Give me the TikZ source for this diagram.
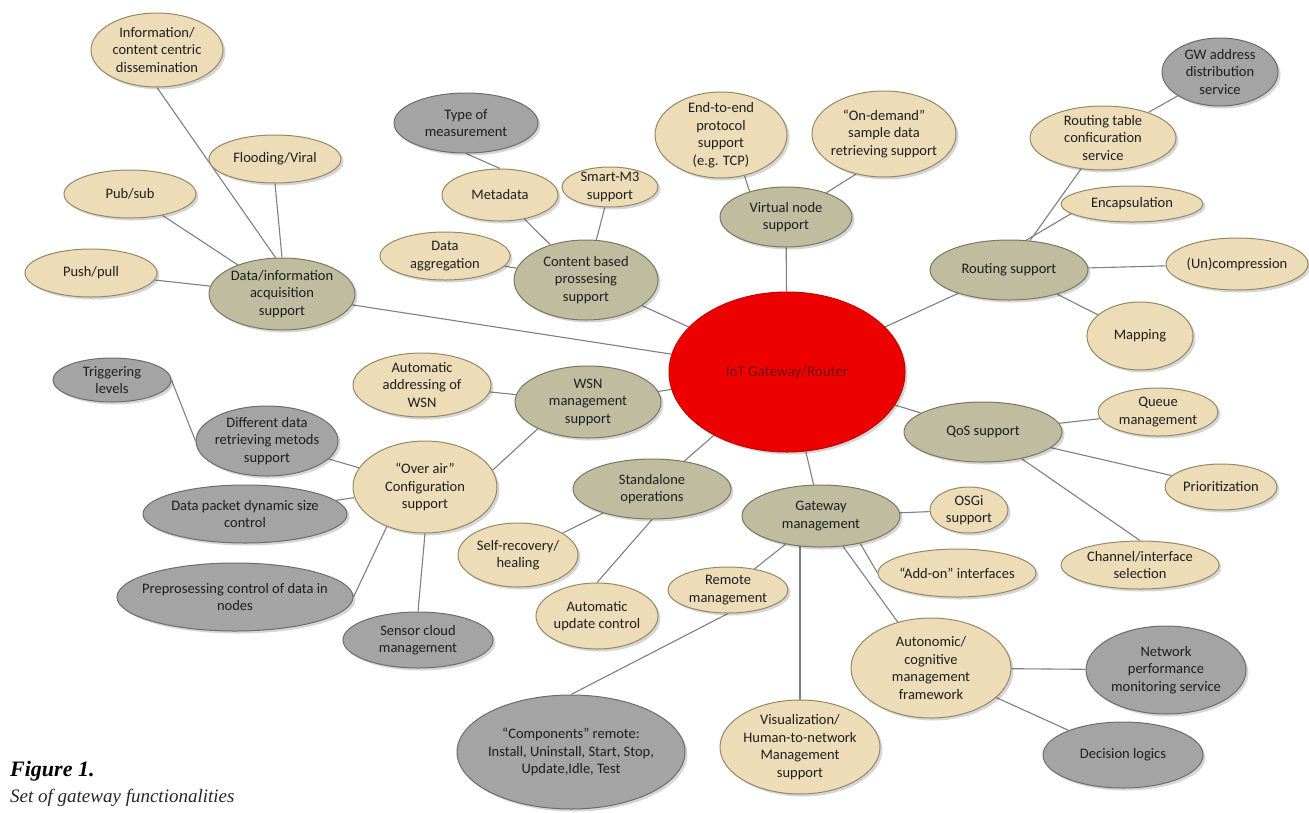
\documentclass[tikz,border=0pt]{standalone}
\usepackage{fontspec}
\setmainfont{Carlito}
\newfontfamily\capfont{Liberation Serif}
\usetikzlibrary{shapes.geometric,shadows}

\definecolor{tanfill}{RGB}{237,220,184}
\definecolor{tanline}{RGB}{150,136,100}
\definecolor{olivefill}{RGB}{191,188,160}
\definecolor{oliveline}{RGB}{122,119,95}
\definecolor{grayfill}{RGB}{164,164,164}
\definecolor{grayline}{RGB}{108,108,108}
\definecolor{hubfill}{RGB}{236,0,0}
\definecolor{hubline}{RGB}{196,0,0}
\definecolor{hubtext}{RGB}{115,12,12}
\definecolor{linkcol}{RGB}{128,128,128}
\definecolor{textcol}{RGB}{30,30,30}

\pgfdeclarelayer{background}
\pgfsetlayers{background,main}

\tikzset{
  blob/.style={ellipse, inner sep=0pt, line width=1pt,
    drop shadow={shadow xshift=2.5pt, shadow yshift=-2.5pt, fill=black, opacity=0.16}},
  tanbox/.style={blob, draw=tanline, fill=tanfill},
  olivebox/.style={blob, draw=oliveline, fill=olivefill},
  graybox/.style={blob, draw=grayline, fill=grayfill},
  hubbox/.style={blob, draw=hubline, fill=hubfill},
  lbl/.style={align=center, inner sep=0pt, text=textcol,
    font=\fontsize{14.5}{17.5}\selectfont},
  hublbl/.style={lbl, text=hubtext, font=\fontsize{15}{18}\selectfont},
  link/.style={draw=linkcol, line width=1.1pt},
}

% \bubble{name}{style}{x}{y}{half width}{half height}{text}
\newcommand\bubble[7]{%
  \node[#2, minimum width=2*#5pt, minimum height=2*#6pt] (#1) at (#3,#4) {};
  \node[lbl] (#1-t) at (#1.center) {#7};
}

\begin{document}
\begin{tikzpicture}[x=1pt, y=-1pt]
\useasboundingbox (0,0) rectangle (1309,812);

% central hub
\node[hubbox, minimum width=236pt, minimum height=160pt] (iot) at (787,372) {};
\node[hublbl] (iot-t) at (iot.center) {IoT Gateway/Router};

% data acquisition branch
\bubble{info}{tanbox}{157}{50}{66}{37}{Information/\\content centric\\dissemination}
\bubble{flood}{tanbox}{275}{159}{66}{24}{Flooding/Viral}
\bubble{pubsub}{tanbox}{130}{194}{66}{24}{Pub/sub}
\bubble{pushpull}{tanbox}{91}{273}{66}{24}{Push/pull}
\bubble{dataacq}{olivebox}{282}{294}{73}{36}{Data/information\\acquisition\\support}

% content processing branch
\bubble{typemeas}{graybox}{466}{123}{72}{30}{Type of\\measurement}
\bubble{metadata}{tanbox}{500}{195}{58}{26}{Metadata}
\bubble{smartm3}{tanbox}{610}{187}{48}{20}{Smart-M3\\support}
\bubble{dataagg}{tanbox}{445}{256}{65}{24}{Data\\aggregation}
\bubble{content}{olivebox}{586}{280}{72}{40}{Content based\\prossesing\\support}

% virtual node branch
\bubble{e2e}{tanbox}{721}{135}{66}{43}{End-to-end\\protocol\\support\\(e.g. TCP)}
\bubble{ondemand}{tanbox}{884}{134}{72}{43}{“On-demand”\\sample data\\retrieving support}
\bubble{virtual}{olivebox}{786}{217}{66}{30}{Virtual node\\support}

% routing branch
\bubble{gwaddr}{graybox}{1220}{72}{58}{34}{GW address\\distribution\\service}
\bubble{rtable}{tanbox}{1103}{138}{73}{32}{Routing table\\conficuration\\service}
\bubble{encap}{tanbox}{1132}{204}{71}{18}{Encapsulation}
\bubble{routing}{olivebox}{1009}{270}{79}{30}{Routing support}
\bubble{uncomp}{tanbox}{1237}{264}{71}{26}{(Un)compression}
\bubble{mapping}{tanbox}{1140}{336}{53}{34}{Mapping}

% QoS branch
\bubble{qos}{olivebox}{983}{432}{79}{30}{QoS support}
\bubble{queue}{tanbox}{1158}{412}{60}{24}{Queue\\management}
\bubble{prior}{tanbox}{1221}{487}{56}{23}{Prioritization}
\bubble{channel}{tanbox}{1140}{565}{79}{24}{Channel/interface\\selection}

% gateway management branch
\bubble{gwmgmt}{olivebox}{821}{516}{79}{31}{Gateway\\management}
\bubble{osgi}{tanbox}{969}{510}{39}{23}{OSGi\\support}
\bubble{addon}{tanbox}{957}{573}{79}{24}{“Add-on” interfaces}
\bubble{remote}{tanbox}{728}{590}{60}{23}{Remote\\management}
\bubble{autonomic}{tanbox}{931}{668}{80}{50}{Autonomic/\\cognitive\\management\\framework}
\bubble{netperf}{graybox}{1166}{670}{80}{44}{Network\\performance\\monitoring service}
\bubble{decision}{graybox}{1123}{755}{80}{33}{Decision logics}
\bubble{visual}{tanbox}{800}{747}{80}{47}{Visualization/\\Human-to-network\\Management\\support}
\bubble{components}{graybox}{571}{752}{114}{57}{“Components” remote:\\Install, Uninstall, Start, Stop,\\Update,Idle, Test}

% standalone branch
\bubble{standalone}{olivebox}{652}{489}{79}{30}{Standalone\\operations}
\bubble{selfrec}{tanbox}{518}{555}{60}{32}{Self-recovery/\\healing}
\bubble{autoupd}{tanbox}{597}{616}{61}{33}{Automatic\\update control}

% WSN management branch
\bubble{wsn}{olivebox}{588}{402}{73}{36}{WSN\\management\\support}
\bubble{autoaddr}{tanbox}{422}{385}{69}{32}{Automatic\\addressing of\\WSN}
\bubble{overair}{tanbox}{425}{487}{72}{46}{“Over air”\\Configuration\\support}
\bubble{trig}{graybox}{112}{380}{59}{22}{Triggering\\levels}
\bubble{different}{graybox}{267}{441}{71}{35}{Different data\\retrieving metods\\support}
\bubble{packet}{graybox}{245}{514}{102}{29}{Data packet dynamic size\\control}
\bubble{preproc}{graybox}{235}{597}{118}{34}{Preprosessing control of data in\\nodes}
\bubble{sensor}{graybox}{418}{640}{75}{28}{Sensor cloud\\management}

% caption
\node[anchor=base west, inner sep=0pt, font=\capfont\bfseries\itshape\fontsize{22}{26}\selectfont, text=black] (fig) at (10,776) {Figure 1.};
\node[anchor=base west, inner sep=0pt, font=\capfont\itshape\fontsize{19}{23}\selectfont, text=black!85] (caption) at (10,802) {Set of gateway functionalities};

% white page and connectors, behind the bubbles
\begin{pgfonlayer}{background}
  \fill[white] (0,0) rectangle (1309,812);

  \path[link] (info.south) -- (dataacq.100);
  \path[link] (flood.south) -- (dataacq.north);
  \path[link] (pubsub) -- (dataacq);
  \path[link] (pushpull) -- (dataacq);
  \path[link] (dataacq) -- (iot);

  \path[link] (typemeas.south) -- (metadata.north);
  \path[link] (metadata) -- (content);
  \path[link] (smartm3) -- (content);
  \path[link] (dataagg) -- (content);
  \path[link] (content) -- (iot);

  \path[link] (e2e.-60) -- (virtual.145);
  \path[link] (ondemand.235) -- (virtual.31);
  \path[link] (virtual) -- (iot);

  \path[link] (gwaddr) -- (rtable);
  \path[link] (rtable) -- (routing);
  \path[link] (encap.189) -- (routing.60);
  \path[link] (routing) -- (uncomp);
  \path[link] (routing) -- (mapping);
  \path[link] (routing) -- (iot);

  \path[link] (iot) -- (qos);
  \path[link] (qos) -- (queue);
  \path[link] (qos) -- (prior);
  \path[link] (qos) -- (channel.north);

  \path[link] (iot) -- (gwmgmt);
  \path[link] (gwmgmt) -- (osgi);
  \path[link] (gwmgmt.-35) -- (addon.west);
  \path[link] (gwmgmt) -- (remote);
  \path[link] (visual.north) -- (visual.north |- gwmgmt.center);
  \path[link] (gwmgmt) -- (autonomic);
  \path[link] (remote.south) -- (components.north);
  \path[link] (autonomic) -- (netperf);
  \path[link] (autonomic) -- (decision);

  \path[link] (iot) -- (standalone);
  \path[link] (standalone) -- (selfrec);
  \path[link] (standalone.south) -- (autoupd.north);

  \path[link] (iot) -- (wsn);
  \path[link] (wsn) -- (autoaddr);
  \path[link] (wsn.208) -- (overair.14);
  \path[link] (overair) -- (different);
  \path[link] (trig.east) -- (different.west);
  \path[link] (overair) -- (packet);
  \path[link] (overair.226) -- (preproc.east);
  \path[link] (overair.south) -- (sensor.north);
\end{pgfonlayer}
\end{tikzpicture}
\end{document}
